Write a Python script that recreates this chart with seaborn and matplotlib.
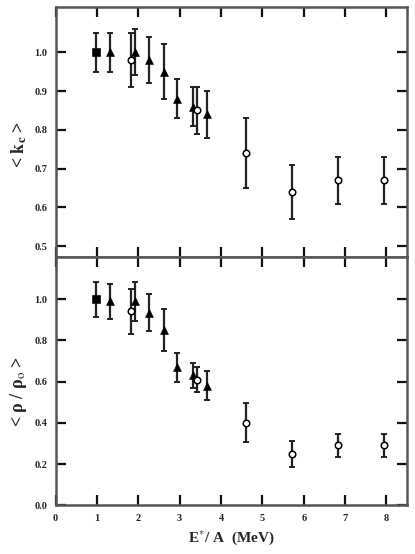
import numpy as np
import pandas as pd
import matplotlib
matplotlib.use("Agg")
import matplotlib.pyplot as plt
import seaborn as sns

# ---- data ----
x_square = [0.97]
x_tri = [1.32, 1.91, 2.26, 2.61, 2.93, 3.32, 3.66]
x_circ = [1.82, 3.43, 4.61, 5.72, 6.83, 7.94]

kc_square = [1.00]
kc_square_err = [0.05]
kc_tri = [1.00, 1.00, 0.98, 0.95, 0.88, 0.86, 0.84]
kc_tri_err = [0.05, 0.06, 0.06, 0.07, 0.05, 0.05, 0.06]
kc_circ = [0.98, 0.85, 0.74, 0.64, 0.67, 0.67]
kc_circ_err = [0.07, 0.06, 0.09, 0.07, 0.06, 0.06]

rho_square = [1.00]
rho_square_err = [0.085]
rho_tri = [0.99, 0.99, 0.935, 0.85, 0.67, 0.63, 0.58]
rho_tri_err = [0.085, 0.095, 0.09, 0.10, 0.07, 0.06, 0.07]
rho_circ = [0.94, 0.61, 0.40, 0.25, 0.29, 0.29]
rho_circ_err = [0.11, 0.06, 0.095, 0.063, 0.055, 0.055]

x_ticks = [0, 1, 2, 3, 4, 5, 6, 7, 8]
kc_ticks = [0.5, 0.6, 0.7, 0.8, 0.9, 1.0]
rho_ticks = [0.0, 0.2, 0.4, 0.6, 0.8, 1.0]

sns.set_style("ticks")
plt.rcParams['font.family'] = ['Liberation Serif', 'DejaVu Serif']
plt.rcParams['mathtext.fontset'] = 'stix'

fig = plt.figure(figsize=(4.15, 5.54), dpi=100)
ax1 = fig.add_axes([0.134, 0.536, 0.847, 0.451])
ax2 = fig.add_axes([0.134, 0.088, 0.847, 0.448])

def panel(ax, sq, sq_e, tri, tri_e, circ, circ_e):
    frames = []
    for name, xs, ys in [("square", x_square, sq), ("tri", x_tri, tri), ("circ", x_circ, circ)]:
        frames.append(pd.DataFrame({"x": xs, "y": ys, "kind": name}))
    df = pd.concat(frames, ignore_index=True)
    ekw = dict(fmt='none', ecolor='#222222', elinewidth=1.6, capsize=2.5, capthick=1.4, zorder=2)
    ax.errorbar(x_square, sq, yerr=sq_e, **ekw)
    ax.errorbar(x_tri, tri, yerr=tri_e, **ekw)
    ax.errorbar(x_circ, circ, yerr=circ_e, **ekw)
    sns.scatterplot(data=df[df.kind == "square"], x="x", y="y", marker="s", s=30,
                    color="black", edgecolor="black", ax=ax, zorder=3, legend=False)
    sns.scatterplot(data=df[df.kind == "tri"], x="x", y="y", marker="^", s=32,
                    color="black", edgecolor="black", ax=ax, zorder=3, legend=False)
    sns.scatterplot(data=df[df.kind == "circ"], x="x", y="y", marker="o", s=22,
                    facecolor="white", edgecolor="black", linewidth=1.1, ax=ax, zorder=3, legend=False)
    for sp in ax.spines.values():
        sp.set_visible(True)
        sp.set_color('#555555')
        sp.set_linewidth(1.8)
    ax.tick_params(direction='in', length=7, width=1.6, color='#111111',
                   top=True, right=True, labelsize=7.5, pad=6)
    ax.set_xlim(0, 8.5)
    ax.set_xticks(x_ticks)

panel(ax1, kc_square, kc_square_err, kc_tri, kc_tri_err, kc_circ, kc_circ_err)
panel(ax2, rho_square, rho_square_err, rho_tri, rho_tri_err, rho_circ, rho_circ_err)

ax1.set_ylim(0.472, 1.116)
ax1.set_yticks(kc_ticks)
ax1.set_yticklabels([f"{v:.1f}" for v in kc_ticks], fontweight='bold')
ax1.tick_params(labelbottom=False)
ax1.set_xlabel("")
ax1.set_ylabel(r"< $\mathbf{k}_\mathbf{c}$ >", fontsize=13, fontweight='bold')
ax1.yaxis.set_label_coords(-0.075, 0.45)

ax2.set_ylim(0.0, 1.204)
ax2.set_yticks(rho_ticks)
ax2.set_yticklabels([f"{v:.1f}" for v in rho_ticks], fontweight='bold')
ax2.set_xticklabels([str(v) for v in x_ticks], fontweight='bold')
ax2.set_ylabel("< ρ / ρ$_\\mathrm{o}$ >", fontsize=13, fontweight='bold')
ax2.yaxis.set_label_coords(-0.075, 0.46)
ax2.set_xlabel(r"E$^{*}$/ A  (MeV)", fontsize=11, fontweight='bold', labelpad=4)

fig.savefig("out.png", dpi=100)
